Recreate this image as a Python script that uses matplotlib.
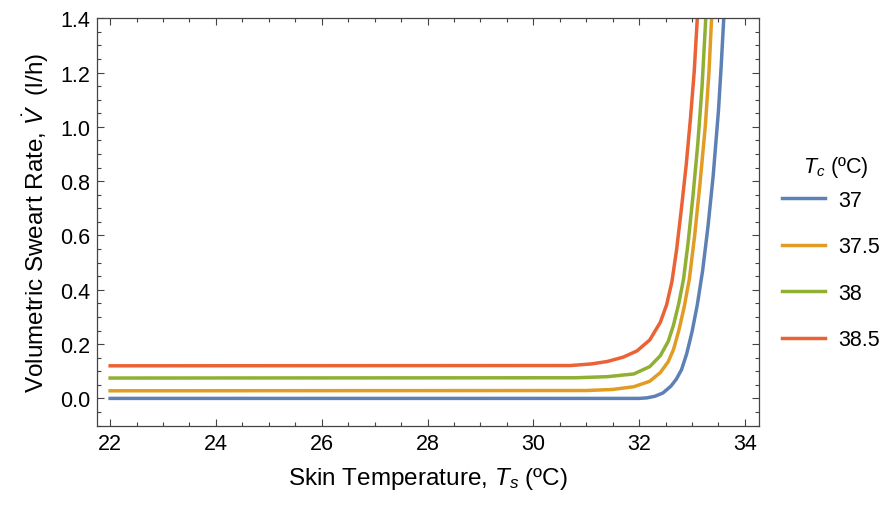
import matplotlib
matplotlib.use("Agg")
import matplotlib.pyplot as plt
from matplotlib.ticker import MultipleLocator, FormatStrFormatter

plt.rcParams['font.family'] = ['Liberation Sans', 'DejaVu Sans']
plt.rcParams['mathtext.fontset'] = 'custom'
plt.rcParams['mathtext.rm'] = 'Liberation Sans'
plt.rcParams['mathtext.it'] = 'Liberation Sans:italic'

# curves (skin temperature in ºC, sweat rate in l/h)
ts_37 = [22, 32.0, 32.15, 32.3, 32.45, 32.6, 32.7, 32.8, 32.9, 33.0, 33.1, 33.2, 33.3, 33.4, 33.5, 33.55, 33.6, 33.63]
v_37 = [0, 0, 0.002, 0.008, 0.02, 0.045, 0.07, 0.105, 0.165, 0.245, 0.345, 0.47, 0.63, 0.82, 1.06, 1.22, 1.4, 1.5]

ts_375 = [22, 31.0, 31.5, 31.9, 32.2, 32.4, 32.55, 32.65, 32.75, 32.85, 32.95, 33.05, 33.15, 33.25, 33.32, 33.37, 33.4]
v_375 = [0.028, 0.029, 0.033, 0.043, 0.063, 0.095, 0.135, 0.18, 0.25, 0.335, 0.44, 0.6, 0.79, 1.0, 1.2, 1.4, 1.5]

ts_38 = [22, 30.8, 31.4, 31.9, 32.2, 32.4, 32.55, 32.65, 32.75, 32.84, 32.93, 33.02, 33.11, 33.19, 33.26, 33.29]
v_38 = [0.075, 0.076, 0.08, 0.09, 0.117, 0.157, 0.21, 0.27, 0.35, 0.44, 0.58, 0.75, 0.94, 1.15, 1.4, 1.5]

ts_385 = [22, 30.7, 31.1, 31.4, 31.7, 31.96, 32.2, 32.4, 32.52, 32.62, 32.71, 32.8, 32.89, 32.97, 33.04, 33.1, 33.13]
v_385 = [0.12, 0.121, 0.127, 0.136, 0.152, 0.175, 0.215, 0.28, 0.345, 0.43, 0.55, 0.7, 0.86, 1.03, 1.2, 1.4, 1.5]

labels = ["37", "37.5", "38", "38.5"]
colors = ["#5E81B5", "#E19C24", "#8FB032", "#EB6235"]

fig = plt.figure(figsize=(8.89, 5.06), dpi=100)
ax = fig.add_axes([0.109, 0.157, 0.745, 0.805])

series = [(ts_37, v_37), (ts_375, v_375), (ts_38, v_38), (ts_385, v_385)]
for (xs, ys), lab, col in zip(series, labels, colors):
    ax.plot(xs, ys, color=col, lw=2.5, label=lab, solid_joinstyle='round')

ax.set_xlim(21.75, 34.27)
ax.set_ylim(-0.1, 1.4)
ax.xaxis.set_major_locator(MultipleLocator(2))
ax.xaxis.set_minor_locator(MultipleLocator(0.5))
ax.yaxis.set_major_locator(MultipleLocator(0.2))
ax.yaxis.set_minor_locator(MultipleLocator(0.05))
ax.yaxis.set_major_formatter(FormatStrFormatter('%.1f'))

ax.tick_params(which='both', direction='in', top=True, right=True,
               color='#444444', width=0.8, labelsize=15.5)
ax.tick_params(which='major', length=5, pad=5)
ax.tick_params(which='minor', length=3)
for sp in ax.spines.values():
    sp.set_color('#444444')
    sp.set_linewidth(0.9)

ax.set_xlabel(r"Skin Temperature, $T_s$ (ºC)", fontsize=17.5, labelpad=8)
ax.set_ylabel(r"Volumetric Sweart Rate, $\dot{V}$  (l/h)", fontsize=17.5, labelpad=6)

# legend entries, title placed on its own so the gap matches
fig.legend(loc='center left', bbox_to_anchor=(782 / 889, 1 - 271 / 506), frameon=False,
           fontsize=15.5, handlelength=2.0, handletextpad=0.6, labelspacing=1.18,
           borderpad=0, borderaxespad=0)
fig.text(836 / 889, 1 - 168 / 506, r"$T_c$ (ºC)", fontsize=15.5, ha='center', va='center')

fig.savefig("out.png", dpi=100)
